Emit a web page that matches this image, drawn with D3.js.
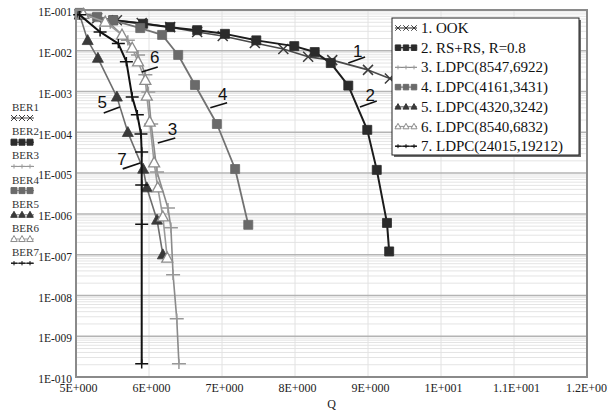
<!DOCTYPE html>
<html>
<head>
<meta charset="utf-8">
<script src="https://cdn.jsdelivr.net/npm/d3@7"></script>
<style>
  body { margin: 0; background: #fff; }
  svg { display: block; }
</style>
</head>
<body>
<svg id="chart" width="608" height="412"></svg>
<script>
// ---- Data -------------------------------------------------------------
const seriesLabels = ["1. OOK", "2. RS+RS, R=0.8", "3. LDPC(8547,6922)", "4. LDPC(4161,3431)",
                      "5. LDPC(4320,3242)", "6. LDPC(8540,6832)", "7. LDPC(24015,19212)"];
const sideLabels = ["BER1", "BER2", "BER3", "BER4", "BER5", "BER6", "BER7"];
const curveTags = ["1", "2", "3", "4", "5", "6", "7"];

const qOOK = [5.05, 5.29, 5.56, 5.90, 6.29, 6.66, 7.01, 7.45, 7.84, 8.18, 8.51, 9.00, 9.30, 9.70];
const berOOK = [7.9e-2, 6.3e-2, 5.6e-2, 4.8e-2, 3.8e-2, 2.9e-2, 2.3e-2, 1.55e-2, 1.1e-2, 7.1e-3, 5.9e-3, 3.4e-3, 2.1e-3, 1.4e-3];

const qRS = [5.05, 5.51, 5.92, 6.29, 6.66, 7.04, 7.47, 7.99, 8.27, 8.49, 8.73, 8.99, 9.12, 9.26, 9.29];
const berRS = [7.9e-2, 5.6e-2, 4.6e-2, 3.8e-2, 3.2e-2, 2.6e-2, 1.8e-2, 1.3e-2, 9.3e-3, 5.0e-3, 1.4e-3, 1.15e-4, 1.2e-5, 6.0e-7, 1.2e-7];

const qL8547 = [5.12, 5.47, 5.71, 5.85, 5.95, 5.99, 6.03, 6.11, 6.26, 6.30, 6.33, 6.38, 6.41];
const berL8547 = [7.9e-2, 4.6e-2, 1.8e-2, 7.9e-3, 2.6e-3, 9.8e-4, 1.6e-4, 1.07e-5, 1.4e-6, 4.6e-7, 3.2e-8, 2.7e-9, 2.1e-10];

const qL4161 = [5.05, 5.29, 5.51, 5.88, 6.18, 6.40, 6.63, 6.93, 7.18, 7.36];
const berL4161 = [8.5e-2, 6.8e-2, 5.6e-2, 3.6e-2, 2.45e-2, 7.9e-3, 1.45e-3, 1.6e-4, 1.26e-5, 5.4e-7];

const qL4320 = [5.05, 5.16, 5.30, 5.56, 5.71, 5.92, 5.97, 6.11, 6.19];
const berL4320 = [7.6e-2, 1.8e-2, 6.6e-3, 7.4e-4, 1.0e-4, 1.26e-5, 4.4e-6, 7.1e-7, 1.0e-7];

const qL8540 = [5.10, 5.40, 5.63, 5.77, 5.85, 5.95, 5.97, 6.01, 6.07, 6.12, 6.19, 6.25];
const berL8540 = [7.9e-2, 5.1e-2, 2.45e-2, 1.17e-2, 5.4e-3, 1.9e-3, 7.8e-4, 1.8e-4, 1.8e-5, 4.4e-6, 8.5e-7, 8.3e-8];

const qL24015 = [5.05, 5.33, 5.58, 5.69, 5.77, 5.84, 5.89, 5.90, 5.90, 5.90, 5.90];
const berL24015 = [7.6e-2, 2.9e-2, 1.5e-2, 5.4e-3, 7.4e-4, 2.7e-4, 9.1e-5, 3.3e-5, 5.1e-6, 5.6e-7, 2.1e-10];

// curve tag callouts: [leader start Q, BER, leader end Q, BER, text Q, BER]
const tagAnchors = [
  [8.73, 5.0e-3, 8.96, 7.0e-3, 8.86, 9.4e-3],
  [8.89, 4.2e-4, 9.12, 5.9e-4, 9.03, 7.8e-4],
  [6.12, 5.5e-5, 6.36, 7.3e-5, 6.32, 1.15e-4],
  [6.84, 4.0e-4, 7.07, 5.3e-4, 7.01, 8.7e-4],
  [5.38, 3.0e-4, 5.60, 4.2e-4, 5.36, 5.3e-4],
  [5.90, 3.0e-3, 6.12, 4.0e-3, 6.08, 6.7e-3],
  [5.64, 1.27e-5, 5.88, 1.78e-5, 5.63, 2.1e-5]
];

const yTickValues = [1e-1, 1e-2, 1e-3, 1e-4, 1e-5, 1e-6, 1e-7, 1e-8, 1e-9, 1e-10];
const yTickLabels = ["1E-001", "1E-002", "1E-003", "1E-004", "1E-005", "1E-006", "1E-007", "1E-008", "1E-009", "1E-010"];
const xTickValues = [5, 6, 7, 8, 9, 10, 11, 12];
const xTickLabels = ["5E+000", "6E+000", "7E+000", "8E+000", "9E+000", "1E+001", "1.1E+001", "1.2E+001"];

// ---- Layout & styles --------------------------------------------------
const plot = { left: 76, right: 587, top: 10, bottom: 377 };
const serif = "'Liberation Serif', 'Times New Roman', serif";
const sans = "'Liberation Sans', Arial, sans-serif";

const series = [
  { q: qOOK, ber: berOOK, line: "#4a4a4a", lw: 1.6, marker: "x", color: "#3c3c3c", size: 10 },
  { q: qRS, ber: berRS, line: "#1c1c1c", lw: 2, marker: "square", color: "#2b2b2b", size: 9 },
  { q: qL8547, ber: berL8547, line: "#8a8a8a", lw: 1.6, marker: "plus", color: "#999999", size: 14 },
  { q: qL4161, ber: berL4161, line: "#727272", lw: 1.8, marker: "square", color: "#6a6a6a", size: 9 },
  { q: qL4320, ber: berL4320, line: "#6e6e6e", lw: 1.6, marker: "triangle", color: "#3a3a3a", size: 10 },
  { q: qL8540, ber: berL8540, line: "#9a9a9a", lw: 1.6, marker: "triangle-open", color: "#8c8c8c", size: 10 },
  { q: qL24015, ber: berL24015, line: "#111111", lw: 2, marker: "plus", color: "#111111", size: 13 }
];

function markerPath(type, s) {
  const h = s / 2;
  switch (type) {
    case "square": return `M${-h},${-h}h${s}v${s}h${-s}Z`;
    case "triangle":
    case "triangle-open": return `M0,${-s * 0.58}L${s * 0.55},${s * 0.42}L${-s * 0.55},${s * 0.42}Z`;
    case "x": return `M${-h},${-h}L${h},${h}M${-h},${h}L${h},${-h}`;
    case "plus": return `M${-h},0H${h}M0,${-s * 0.36}V${s * 0.36}`;
  }
}
function styleMarker(sel, s) {
  if (s.marker === "square" || s.marker === "triangle") {
    sel.attr("fill", s.color).attr("stroke", s.color).attr("stroke-width", 0.8);
  } else if (s.marker === "triangle-open") {
    sel.attr("fill", "#fff").attr("stroke", s.color).attr("stroke-width", 1.3);
  } else {
    sel.attr("fill", "none").attr("stroke", s.color).attr("stroke-width", 1.5);
  }
}

// ---- Scales -----------------------------------------------------------
const x = d3.scaleLinear().domain([5, 12]).range([plot.left, plot.right]);
const y = d3.scaleLog().domain([1e-10, 1e-1]).range([plot.bottom, plot.top]);

const svg = d3.select("#chart");
svg.append("rect").attr("width", 608).attr("height", 412).attr("fill", "#fff");

// ---- Grid -------------------------------------------------------------
const grid = svg.append("g");
const minor = [];
for (let k = -10; k < -1; k++) for (let m = 2; m <= 9; m++) minor.push(m * Math.pow(10, k));
grid.selectAll("line.minor").data(minor).join("line")
  .attr("x1", plot.left).attr("x2", plot.right)
  .attr("y1", d => y(d)).attr("y2", d => y(d))
  .attr("stroke", "#e4e4e4").attr("stroke-width", 1);
grid.selectAll("line.vert").data(xTickValues.slice(1, -1)).join("line")
  .attr("x1", d => x(d)).attr("x2", d => x(d))
  .attr("y1", plot.top).attr("y2", plot.bottom)
  .attr("stroke", "#e2e2e2").attr("stroke-width", 1);
grid.selectAll("line.major").data(yTickValues.slice(1, -1)).join("line")
  .attr("x1", plot.left).attr("x2", plot.right)
  .attr("y1", d => y(d)).attr("y2", d => y(d))
  .attr("stroke", "#b4b4b4").attr("stroke-width", 1.5);

// ---- Axes -------------------------------------------------------------
const yAxis = svg.append("g").attr("transform", `translate(${plot.left},0)`)
  .call(d3.axisLeft(y).tickValues(yTickValues).tickFormat((d, i) => yTickLabels[i]).tickSize(0).tickPadding(4));
yAxis.select(".domain").remove();
yAxis.selectAll("text").attr("font-family", serif).attr("font-size", 11.5).attr("fill", "#222").attr("dy", "0.5em");

const xAxis = svg.append("g").attr("transform", `translate(0,${plot.bottom})`)
  .call(d3.axisBottom(x).tickValues(xTickValues).tickFormat((d, i) => xTickLabels[i]).tickSize(0).tickPadding(6));
xAxis.select(".domain").remove();
xAxis.selectAll("text").attr("font-family", serif).attr("font-size", 12).attr("fill", "#222").attr("dx", 2);

svg.append("text").attr("x", (plot.left + plot.right) / 2).attr("y", 408)
  .attr("text-anchor", "middle").attr("font-family", serif).attr("font-size", 12).attr("fill", "#222").text("Q");

// ---- Series -----------------------------------------------------------
const lineGen = d3.line().x(d => x(d[0])).y(d => y(d[1]));
const layer = svg.append("g");
series.forEach(s => {
  const pts = s.q.map((q, i) => [q, s.ber[i]]);
  layer.append("path").datum(pts).attr("d", lineGen)
    .attr("fill", "none").attr("stroke", s.line).attr("stroke-width", s.lw).attr("stroke-linejoin", "round");
  layer.append("g").selectAll("path").data(pts).join("path")
    .attr("transform", d => `translate(${x(d[0])},${y(d[1])})`)
    .attr("d", markerPath(s.marker, s.size))
    .call(styleMarker, s);
});

// ---- Plot frame -------------------------------------------------------
svg.append("rect").attr("x", plot.left).attr("y", plot.top)
  .attr("width", plot.right - plot.left).attr("height", plot.bottom - plot.top)
  .attr("fill", "none").attr("stroke", "#8a8a8a").attr("stroke-width", 2);

// ---- Curve tags -------------------------------------------------------
const tags = svg.append("g");
tagAnchors.forEach((a, i) => {
  tags.append("line").attr("x1", x(a[0])).attr("y1", y(a[1])).attr("x2", x(a[2])).attr("y2", y(a[3]))
    .attr("stroke", "#111").attr("stroke-width", 1.6);
  tags.append("text").attr("x", x(a[4])).attr("y", y(a[5]))
    .attr("text-anchor", "middle").attr("dominant-baseline", "central")
    .attr("font-family", sans).attr("font-size", 17).attr("fill", "#111").text(curveTags[i]);
});

// ---- Legend -----------------------------------------------------------
const lg = { x: 392, y: 18, w: 187, h: 137, row: 19.7 };
const legend = svg.append("g");
legend.append("rect").attr("x", lg.x + 2).attr("y", lg.y + 2).attr("width", lg.w).attr("height", lg.h).attr("fill", "#6a6a6a");
legend.append("rect").attr("x", lg.x).attr("y", lg.y).attr("width", lg.w).attr("height", lg.h)
  .attr("fill", "#fff").attr("stroke", "#222").attr("stroke-width", 1);
series.forEach((s, i) => {
  const cy = lg.y + 10 + i * lg.row;
  const row = legend.append("g").attr("transform", `translate(0,${cy})`);
  row.append("line").attr("x1", lg.x + 3).attr("x2", lg.x + 25).attr("y1", 0).attr("y2", 0)
    .attr("stroke", s.line).attr("stroke-width", 1.2);
  [lg.x + 6, lg.x + 14, lg.x + 22].forEach(mx => {
    row.append("path").attr("transform", `translate(${mx},0)`)
      .attr("d", markerPath(s.marker, 5.5)).call(styleMarker, s).attr("stroke-width", 1);
  });
  row.append("text").attr("x", lg.x + 29).attr("y", 0).attr("dominant-baseline", "central")
    .attr("font-family", serif).attr("font-size", 15).attr("fill", "#111").text(seriesLabels[i]);
});

// ---- Side key ---------------------------------------------------------
const side = svg.append("g");
series.forEach((s, i) => {
  const ty = 107 + i * 24.2;
  side.append("text").attr("x", 12).attr("y", ty).attr("dominant-baseline", "central")
    .attr("font-family", serif).attr("font-size", 11).attr("fill", "#333").text(sideLabels[i]);
  side.append("line").attr("x1", 11).attr("x2", 34).attr("y1", ty + 11).attr("y2", ty + 11)
    .attr("stroke", s.line).attr("stroke-width", 1);
  [14, 22, 30].forEach(mx => {
    side.append("path").attr("transform", `translate(${mx},${ty + 11})`)
      .attr("d", markerPath(s.marker, 6)).call(styleMarker, s).attr("stroke-width", 1);
  });
});
</script>
</body>
</html>
